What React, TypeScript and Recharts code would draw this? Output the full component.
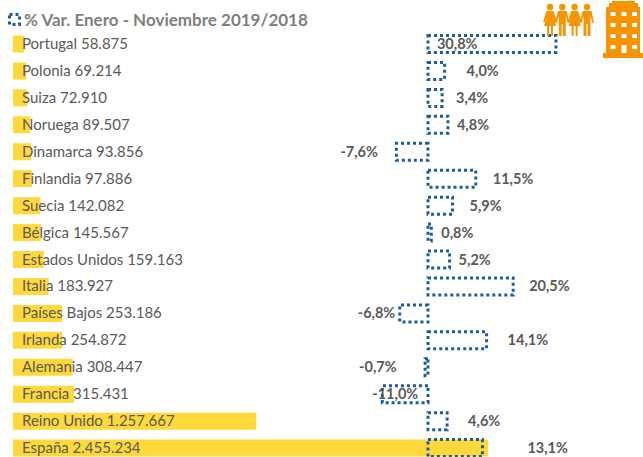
import { BarChart, Bar, XAxis, YAxis, LabelList } from 'recharts';

const countries = ['Portugal', 'Polonia', 'Suiza', 'Noruega', 'Dinamarca', 'Finlandia', 'Suecia', 'Bélgica', 'Estados Unidos', 'Italia', 'Países Bajos', 'Irlanda', 'Alemania', 'Francia', 'Reino Unido', 'España'];
const tourists = [58875, 69214, 72910, 89507, 93856, 97886, 142082, 145567, 159163, 183927, 253186, 254872, 308447, 315431, 1257667, 2455234];
const touristLabels = ['58.875', '69.214', '72.910', '89.507', '93.856', '97.886', '142.082', '145.567', '159.163', '183.927', '253.186', '254.872', '308.447', '315.431', '1.257.667', '2.455.234'];
const variation = [30.8, 4.0, 3.4, 4.8, -7.6, 11.5, 5.9, 0.8, 5.2, 20.5, -6.8, 14.1, -0.7, -11.0, 4.6, 13.1];

// the labels were moved by hand in the original, so each has its own gap from the bar end
const labelGaps = [-119, 22, 14, 9, -56, 17, 17, 10, 9, 16, -42, 21, -66, -10, 21, 45];

const chartData = countries.map((name, i) => ({
  name,
  tourists: tourists[i],
  variation: variation[i],
}));

const FONT = 'Lato, sans-serif';

function TouristLabel({ y, height, index }: any) {
  return (
    <text x={22} y={y + height / 2} dy={5} fontFamily={FONT} fontSize={15} fill="#595959">
      {countries[index]} {touristLabels[index]}
    </text>
  );
}

function VariationLabel({ x, y, width, height, index }: any) {
  return (
    <text x={x + width + labelGaps[index]} y={y + height / 2} dy={5} fontFamily={FONT} fontSize={14.5} fontWeight={700} fill="#595959">
      {variation[index].toFixed(1).replace('.', ',')}%
    </text>
  );
}

function People() {
  const figures = [0, 12.3, 24.6, 37];
  return (
    <svg width={52} height={33} style={{ position: 'absolute', left: 543, top: 3 }}>
      {figures.map((fx, i) => (
        <g key={i} fill="#F79400" transform={`translate(${fx},0)`}>
          <circle cx={7} cy={4} r={3.2} />
          {i % 2 === 0 ? (
            <path d="M3.5 8 H10.5 L14 19 H12 L10.5 14 L13 23 H10 V33 H8 V23 H6 V33 H4 V23 H1 L3.5 14 L2 19 H0 Z" />
          ) : (
            <path d="M2.5 8 H11.5 L14 20 H12.5 L10.5 13 V33 H7.6 V21 H6.4 V33 H3.5 V13 L1.5 20 H0 Z" />
          )}
        </g>
      ))}
    </svg>
  );
}

function Building() {
  const rows = [14, 25, 36, 47];
  const cols = [10, 21, 31.5];
  return (
    <svg width={40} height={58} style={{ position: 'absolute', left: 603, top: 0 }}>
      <path d="M3 7 H6 V3 H9 V1 H32 V3 H35 V7 H37 V53 H40 V58 H0 V53 H3 Z" fill="#F79400" />
      {rows.map(ry =>
        cols.map(cx => (
          <rect key={`${ry}-${cx}`} x={cx - 2.5} y={ry - 2} width={5} height={ry === 47 && cx === 21 ? 8 : 4} fill="#fff" />
        ))
      )}
    </svg>
  );
}

export default function App() {
  return (
    <div style={{ position: 'absolute', left: 0, top: 0, width: 643, height: 457, overflow: 'hidden', background: '#fff' }}>
      <BarChart
        width={643}
        height={465}
        data={chartData}
        layout="vertical"
        barCategoryGap={0}
        barGap={-17}
        margin={{ top: 30.5, right: 13, bottom: 3.5, left: 13 }}
      >
        <XAxis xAxisId="tourists" type="number" domain={[0, 3189200]} hide />
        <XAxis xAxisId="variation" type="number" domain={[-99.88, 48.62]} hide />
        <YAxis type="category" dataKey="name" hide />
        <Bar dataKey="tourists" xAxisId="tourists" fill="#FFD93B" barSize={17} isAnimationActive={false}>
          <LabelList content={<TouristLabel />} />
        </Bar>
        <Bar
          dataKey="variation"
          xAxisId="variation"
          fill="none"
          stroke="#1B5C9E"
          strokeWidth={3}
          strokeDasharray="3 3"
          barSize={17}
          isAnimationActive={false}
        >
          <LabelList content={<VariationLabel />} />
        </Bar>
      </BarChart>
      <div style={{ position: 'absolute', left: 8, top: 9, display: 'flex', alignItems: 'center', fontFamily: FONT, fontSize: 17, fontWeight: 700, color: '#7F7F7F', whiteSpace: 'nowrap' }}>
        <svg width={13} height={13} style={{ marginRight: 3 }}>
          <rect x={1.5} y={1.5} width={10} height={10} fill="none" stroke="#1B5C9E" strokeWidth={3} strokeDasharray="3 3" />
        </svg>
        % Var. Enero - Noviembre 2019/2018
      </div>
      <People />
      <Building />
    </div>
  );
}
